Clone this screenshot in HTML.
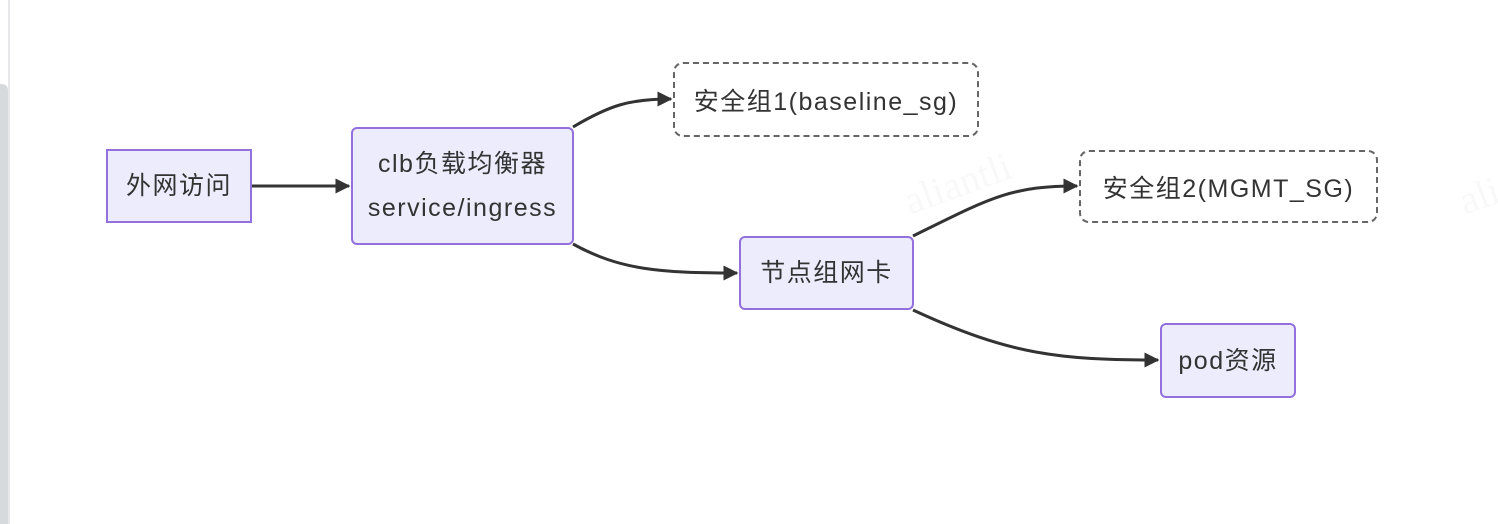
<!DOCTYPE html>
<html><head><meta charset="utf-8"><style>
body{margin:0;width:1498px;height:524px;background:#fff;overflow:hidden;position:relative;font-family:"Liberation Sans","Noto Sans CJK SC",sans-serif}
.n{position:absolute;box-sizing:border-box;background:#ececfd;border:2px solid #9370db;display:flex;align-items:center;justify-content:center;text-align:center;font-size:25px;letter-spacing:1.5px;color:#333;line-height:44px;white-space:nowrap}
.d{position:absolute;box-sizing:border-box;border:2px dashed #666;border-radius:10px;display:flex;align-items:center;justify-content:center;font-size:25px;letter-spacing:1.5px;color:#333;white-space:nowrap}
</style></head><body>
<div style="position:absolute;left:8px;top:0;width:2px;height:524px;background:#e6e8ea"></div>
<div style="position:absolute;left:0;top:84px;width:8px;height:440px;background:#d7dadd;border-radius:0 6px 0 0"></div>
<svg width="1498" height="524" style="position:absolute;left:0;top:0">
<defs><marker id="a" viewBox="0 0 10 10" refX="9" refY="5" markerWidth="5" markerHeight="5" orient="auto"><path d="M0,0L10,5L0,10z" fill="#333"/></marker></defs>
<g fill="none" stroke="#333" stroke-width="3" marker-end="url(#a)">
<path d="M251,186L349,186"/>
<path d="M573,127C610,105 630,99 671,99"/>
<path d="M573,244C620,270 660,273 737,273"/>
<path d="M913,236C990,198 1010,186 1077,186"/>
<path d="M913,310C1010,355 1060,360 1158,360"/>
</g>
<g fill="#000" opacity="0.025" font-family="Liberation Serif" font-size="40">
<text transform="translate(355,215) rotate(-20)">aliantli</text>
<text transform="translate(910,215) rotate(-20)">aliantli</text>
<text transform="translate(1465,215) rotate(-20)">aliantli</text>
</g>
</svg>
<div class="n" style="left:106px;top:149px;width:146px;height:74px">外网访问</div>
<div class="n" style="left:351px;top:127px;width:223px;height:118px;border-radius:6px">clb负载均衡器<br>service/ingress</div>
<div class="d" style="left:673px;top:62px;width:306px;height:75px">安全组1(baseline_sg)</div>
<div class="d" style="left:1079px;top:150px;width:299px;height:73px">安全组2(MGMT_SG)</div>
<div class="n" style="left:739px;top:236px;width:175px;height:74px;border-radius:6px">节点组网卡</div>
<div class="n" style="left:1160px;top:323px;width:136px;height:75px;border-radius:6px">pod资源</div>
</body></html>
